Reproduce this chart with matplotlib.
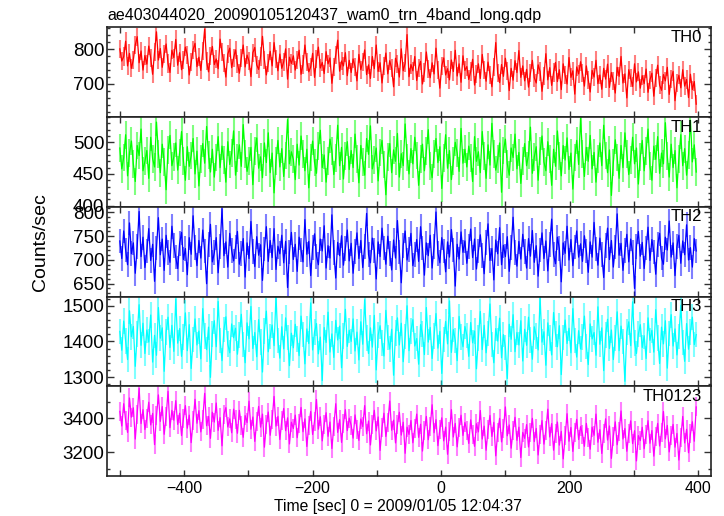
import numpy as np
import matplotlib
matplotlib.use("Agg")
import matplotlib.pyplot as plt
from matplotlib.ticker import MultipleLocator

plt.rcParams['font.family'] = ['Liberation Sans', 'DejaVu Sans']

title = "ae403044020_20090105120437_wam0_trn_4band_long.qdp"
xlabel = "Time [sec] 0 = 2009/01/05 12:04:37"
ylabel = "Counts/sec"
band_names = ["TH0", "TH1", "TH2", "TH3", "TH0123"]
band_colors = ["#ff0000", "#00ff00", "#0000ff", "#00ffff", "#ff00ff"]

# time bin centres (s), 3-s spacing
time = np.arange(-500, 400, 3)

th0 = [801, 766, 779, 823, 752, 788, 745, 770, 812, 836, 761, 795, 740, 782, 757, 809, 774, 728, 791, 850, 769, 802, 748, 786, 815, 759, 733, 797, 776, 828,
       754, 790, 741, 768, 806, 783, 726, 762, 799, 817, 750, 777, 739, 794, 858, 765, 735, 781, 808, 756, 772, 744, 829, 791, 760, 720, 786, 803, 747, 775,
       798, 758, 731, 774, 812, 749, 783, 766, 721, 790, 805, 755, 742, 779, 837, 769, 726, 761, 794, 752, 819, 773, 738, 786, 745, 764, 801, 714, 777, 759,
       781, 740, 769, 797, 728, 756, 812, 764, 735, 749, 788, 719, 771, 806, 746, 762, 730, 793, 758, 775, 702, 748, 784, 826, 737, 766, 752, 790, 724, 768,
       733, 772, 750, 709, 785, 741, 764, 798, 727, 755, 716, 779, 744, 812, 736, 761, 703, 751, 789, 729, 767, 745, 692, 774, 757, 720, 801, 738, 760, 842,
       721, 756, 738, 779, 710, 747, 765, 700, 733, 792, 744, 718, 761, 729, 803, 741, 688, 752, 775, 726, 744, 712, 769, 736, 797, 723, 758, 705, 781, 739,
       750, 713, 736, 771, 697, 729, 758, 716, 785, 740, 708, 763, 727, 692, 748, 819, 731, 704, 756, 722, 774, 738, 681, 745, 711, 767, 733, 796, 719, 752,
       709, 742, 691, 731, 768, 718, 703, 755, 736, 679, 724, 787, 712, 747, 696, 733, 762, 707, 741, 684, 758, 725, 700, 776, 719, 738, 671, 749, 729, 764,
       731, 694, 752, 712, 677, 739, 720, 768, 701, 726, 685, 745, 714, 757, 690, 733, 709, 674, 748, 722, 779, 703, 729, 660, 741, 716, 693, 758, 706, 735,
       688, 724, 701, 743, 676, 712, 731, 665, 718, 754, 697, 682, 727, 709, 748, 670, 715, 736, 652, 703, 725, 689, 741, 694, 713, 661, 728, 684, 707, 642]

th1 = [491, 458, 476, 512, 447, 483, 502, 466, 438, 495, 479, 521, 455, 470, 487, 443, 508, 474, 461, 532, 482, 452, 497, 469, 425, 488, 511, 463, 477, 499,
       456, 484, 517, 471, 440, 493, 462, 479, 506, 450, 486, 431, 473, 498, 467, 525, 480, 453, 489, 445, 476, 509, 460, 494, 472, 437, 501, 465, 483, 518,
       448, 475, 496, 462, 528, 481, 454, 470, 492, 433, 486, 507, 459, 477, 444, 499, 468, 515, 452, 483, 420, 471, 503, 461, 490, 446, 479, 536, 466, 485,
       473, 441, 497, 464, 510, 482, 455, 489, 428, 476, 502, 468, 451, 494, 519, 460, 480, 437, 471, 505, 486, 449, 475, 527, 463, 492, 442, 478, 501, 457,
       487, 460, 513, 474, 436, 495, 469, 448, 506, 481, 526, 458, 472, 491, 439, 484, 503, 465, 417, 477, 498, 452, 488, 470, 514, 445, 482, 463, 529, 476,
       450, 490, 466, 508, 479, 432, 473, 497, 455, 486, 520, 462, 444, 481, 506, 468, 493, 427, 475, 512, 459, 487, 441, 471, 500, 483, 454, 522, 467, 489,
       461, 494, 475, 438, 509, 470, 485, 452, 517, 478, 443, 496, 464, 530, 482, 456, 473, 499, 421, 487, 505, 466, 448, 491, 476, 513, 458, 484, 435, 471,
       498, 463, 480, 524, 451, 477, 493, 440, 486, 510, 469, 455, 501, 474, 432, 489, 462, 518, 478, 447, 495, 472, 507, 457, 483, 426, 476, 503, 465, 538,
       481, 446, 492, 470, 511, 458, 484, 437, 474, 499, 463, 527, 479, 452, 488, 416, 468, 504, 476, 443, 495, 460, 515, 482, 449, 472, 508, 466, 491, 434,
       477, 503, 455, 486, 521, 462, 440, 494, 473, 509, 451, 483, 466, 531, 478, 445, 497, 460, 487, 428, 474, 512, 463, 490, 448, 480, 535, 469, 496, 453]

th2 = [740, 703, 761, 721, 690, 778, 713, 736, 672, 729, 802, 707, 748, 684, 719, 766, 699, 733, 655, 725, 789, 711, 744, 678, 752, 716, 695, 771, 730, 706,
       682, 735, 758, 701, 724, 669, 747, 712, 793, 726, 688, 741, 704, 763, 719, 650, 732, 775, 696, 715, 747, 673, 728, 808, 709, 738, 685, 756, 720, 698,
       727, 760, 691, 714, 745, 664, 736, 703, 781, 718, 686, 749, 710, 732, 657, 723, 770, 697, 741, 705, 766, 680, 729, 713, 752, 694, 739, 642, 717, 758,
       701, 733, 676, 748, 721, 696, 785, 712, 739, 667, 726, 755, 708, 690, 744, 719, 772, 683, 730, 704, 795, 716, 662, 737, 709, 751, 689, 724, 763, 698,
       735, 672, 718, 757, 703, 741, 684, 729, 798, 711, 694, 746, 720, 660, 738, 707, 767, 725, 691, 750, 713, 679, 742, 704, 783, 717, 652, 731, 761, 700,
       722, 756, 688, 711, 743, 697, 770, 725, 668, 736, 709, 752, 683, 729, 801, 714, 694, 747, 719, 675, 738, 706, 764, 721, 645, 733, 702, 759, 716, 740,
       693, 728, 765, 705, 744, 681, 719, 753, 710, 671, 737, 776, 699, 724, 658, 742, 713, 768, 690, 731, 707, 749, 676, 726, 790, 715, 687, 739, 702, 754,
       718, 683, 745, 708, 762, 695, 730, 666, 721, 757, 703, 740, 677, 733, 786, 711, 692, 748, 724, 654, 736, 714, 771, 700, 743, 688, 727, 761, 706, 734,
       697, 751, 719, 674, 738, 706, 779, 723, 689, 746, 712, 663, 731, 767, 701, 741, 685, 727, 797, 710, 735, 678, 720, 754, 696, 744, 715, 640, 729, 760,
       708, 737, 682, 725, 769, 699, 743, 717, 670, 732, 756, 704, 691, 748, 721, 782, 706, 736, 667, 728, 752, 693, 740, 711, 774, 700, 726, 685, 745, 719]

th3 = [1428, 1375, 1457, 1401, 1349, 1486, 1413, 1442, 1330, 1420, 1503, 1389, 1451, 1366, 1432, 1398, 1474, 1342, 1417, 1361, 1495, 1409, 1438, 1316, 1426, 1468, 1383, 1445, 1372, 1519,
       1395, 1436, 1358, 1412, 1480, 1374, 1447, 1324, 1405, 1463, 1390, 1429, 1351, 1492, 1416, 1377, 1440, 1299, 1421, 1458, 1385, 1512, 1403, 1346, 1433, 1469, 1392, 1368, 1449, 1410,
       1437, 1364, 1418, 1476, 1391, 1340, 1452, 1407, 1498, 1380, 1425, 1357, 1461, 1399, 1314, 1430, 1485, 1371, 1414, 1446, 1388, 1527, 1402, 1353, 1441, 1379, 1466, 1411, 1332, 1423,
       1382, 1448, 1406, 1360, 1471, 1419, 1337, 1435, 1394, 1508, 1376, 1427, 1450, 1365, 1412, 1290, 1439, 1397, 1482, 1370, 1421, 1355, 1459, 1404, 1443, 1326, 1415, 1490, 1386, 1431,
       1400, 1463, 1373, 1426, 1348, 1455, 1392, 1517, 1409, 1366, 1438, 1384, 1473, 1320, 1418, 1444, 1396, 1359, 1487, 1411, 1378, 1434, 1305, 1423, 1466, 1390, 1451, 1343, 1414, 1500,
       1374, 1430, 1461, 1387, 1408, 1336, 1447, 1420, 1363, 1495, 1398, 1439, 1352, 1416, 1478, 1381, 1428, 1310, 1405, 1456, 1393, 1514, 1369, 1433, 1403, 1346, 1470, 1412, 1385, 1442,
       1417, 1358, 1453, 1396, 1429, 1323, 1410, 1484, 1377, 1445, 1368, 1422, 1505, 1391, 1340, 1436, 1401, 1465, 1354, 1419, 1383, 1296, 1448, 1406, 1475, 1371, 1425, 1390, 1458, 1345,
       1434, 1389, 1468, 1404, 1350, 1441, 1415, 1376, 1523, 1398, 1427, 1333, 1452, 1409, 1362, 1481, 1420, 1385, 1444, 1307, 1411, 1460, 1394, 1437, 1368, 1492, 1402, 1356, 1430, 1379,
       1413, 1471, 1386, 1335, 1449, 1407, 1425, 1361, 1497, 1392, 1438, 1318, 1418, 1462, 1380, 1432, 1349, 1409, 1483, 1374, 1443, 1400, 1288, 1426, 1455, 1388, 1511, 1396, 1366, 1421,
       1447, 1383, 1416, 1352, 1466, 1403, 1431, 1370, 1489, 1410, 1338, 1440, 1393, 1458, 1325, 1422, 1475, 1387, 1435, 1362, 1414, 1501, 1397, 1344, 1450, 1378, 1427, 1468, 1391, 1419]

th0123 = [3442, 3356, 3487, 3391, 3318, 3521, 3408, 3463, 3279, 3425, 3578, 3370, 3452, 3335, 3401, 3496, 3362, 3430, 3246, 3415, 3539, 3383, 3470, 3307, 3411, 3560, 3346, 3448, 3390, 3505,
          3365, 3431, 3299, 3402, 3476, 3343, 3420, 3258, 3388, 3513, 3372, 3446, 3321, 3395, 3548, 3357, 3412, 3283, 3437, 3379, 3491, 3330, 3405, 3239, 3425, 3464, 3350, 3398, 3316, 3455,
          3392, 3313, 3448, 3361, 3289, 3417, 3376, 3502, 3337, 3409, 3265, 3383, 3471, 3349, 3426, 3231, 3367, 3438, 3301, 3395, 3530, 3355, 3412, 3276, 3387, 3459, 3328, 3404, 3250, 3378,
          3341, 3420, 3287, 3373, 3465, 3322, 3398, 3235, 3359, 3441, 3306, 3384, 3512, 3337, 3410, 3268, 3366, 3434, 3295, 3379, 3223, 3352, 3487, 3318, 3393, 3259, 3371, 3452, 3329, 3402,
          3360, 3284, 3421, 3338, 3271, 3397, 3352, 3476, 3310, 3385, 3244, 3366, 3448, 3327, 3409, 3212, 3345, 3431, 3294, 3374, 3503, 3331, 3390, 3256, 3363, 3437, 3302, 3378, 3195, 3349,
          3306, 3388, 3257, 3342, 3426, 3289, 3366, 3208, 3331, 3412, 3275, 3354, 3481, 3316, 3393, 3240, 3337, 3404, 3268, 3349, 3189, 3322, 3452, 3291, 3371, 3233, 3345, 3419, 3300, 3376,
          3328, 3253, 3392, 3305, 3236, 3369, 3321, 3447, 3279, 3355, 3213, 3333, 3418, 3294, 3377, 3180, 3316, 3401, 3262, 3343, 3468, 3298, 3362, 3225, 3331, 3407, 3271, 3349, 3170, 3318,
          3283, 3364, 3232, 3317, 3401, 3264, 3341, 3185, 3306, 3388, 3249, 3329, 3455, 3291, 3370, 3213, 3312, 3379, 3243, 3324, 3162, 3297, 3428, 3266, 3347, 3206, 3320, 3395, 3276, 3352,
          3308, 3236, 3371, 3286, 3219, 3349, 3301, 3426, 3260, 3334, 3194, 3313, 3398, 3273, 3356, 3165, 3295, 3380, 3245, 3322, 3444, 3279, 3341, 3207, 3310, 3386, 3252, 3328, 3150, 3299,
          3270, 3348, 3222, 3303, 3387, 3254, 3329, 3178, 3293, 3371, 3238, 3316, 3441, 3280, 3359, 3203, 3301, 3365, 3231, 3312, 3155, 3287, 3412, 3256, 3336, 3198, 3309, 3381, 3266, 3468]

series = [th0, th1, th2, th3, th0123]
errors = [26, 22, 26, 36, 56]
ylims = [(605, 863), (398, 540), (623, 812), (1274, 1526), (3061, 3590)]
ymajor = [100, 50, 50, 100, 200]
yminor = [20, 10, 10, 20, 100]
xlim = (-520, 420)

W, H = 724, 516
fig = plt.figure(figsize=(W / 100, H / 100), dpi=100)
left_px, right_px = 107, 711
top_px, bot_px = 27.3, 476
ph = (bot_px - top_px) / 5

for i in range(5):
    y0 = 1 - (top_px + ph * (i + 1)) / H
    ax = fig.add_axes([left_px / W, y0, (right_px - left_px) / W, ph / H])
    c = band_colors[i]
    ax.errorbar(time, series[i], yerr=errors[i], fmt='none', ecolor=c, elinewidth=1.5, alpha=0.5)
    ax.plot(time, series[i], color=c, lw=0.9)
    ax.set_xlim(*xlim)
    ax.set_ylim(*ylims[i])
    ax.xaxis.set_major_locator(MultipleLocator(200))
    ax.xaxis.set_minor_locator(MultipleLocator(100))
    ax.yaxis.set_major_locator(MultipleLocator(ymajor[i]))
    ax.yaxis.set_minor_locator(MultipleLocator(yminor[i]))
    ax.tick_params(which='both', direction='in', top=True, right=True, width=1.0, color='#333333')
    ax.tick_params(axis='x', labelsize=11.5)
    ax.tick_params(axis='y', labelsize=13.5, pad=2)
    ax.tick_params(which='major', length=5)
    ax.tick_params(which='minor', length=2.5)
    ax.tick_params(axis='x', which='both', length=4)
    for s in ax.spines.values():
        s.set_linewidth(1.2)
        s.set_color('#222222')
    if i < 4:
        ax.tick_params(labelbottom=False)
    ax.text(0.985, 0.97, band_names[i], transform=ax.transAxes, ha='right', va='top', fontsize=12)

fig.text(107 / W, 1 - 15 / H, title, ha='left', va='center', fontsize=11.5)
fig.text(398 / W, 1 - 507 / H, xlabel, ha='center', va='center', fontsize=11.3)
fig.text(40 / W, 1 - 242 / H, ylabel, ha='center', va='center', rotation=90, fontsize=14)

fig.savefig("out.png", dpi=100)
